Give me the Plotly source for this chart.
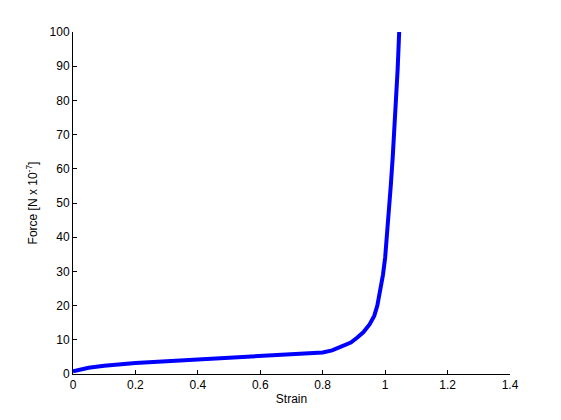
import plotly.graph_objects as go

strain = [0.0, 0.02, 0.05, 0.1, 0.15, 0.2, 0.3, 0.4, 0.5, 0.6, 0.7, 0.8, 0.83, 0.86, 0.89, 0.91, 0.93, 0.95, 0.965, 0.975, 0.985, 0.993, 1.0, 1.006, 1.012, 1.018, 1.024, 1.03, 1.035, 1.04, 1.045]
force = [0.8, 1.3, 1.8, 2.4, 2.9, 3.2, 3.7, 4.2, 4.9, 5.4, 5.8, 6.3, 6.9, 7.9, 9.2, 10.6, 12.2, 14.5, 17.0, 20.0, 24.5, 29.0, 34.0, 40.0, 47.0, 55.0, 63.0, 72.0, 80.0, 89.0, 100.0]

x_ticks = [0, 0.2, 0.4, 0.6, 0.8, 1, 1.2, 1.4]
x_labels = ["0", "0.2", "0.4", "0.6", "0.8", "1", "1.2", "1.4"]
y_ticks = [0, 10, 20, 30, 40, 50, 60, 70, 80, 90, 100]

FONT = "Liberation Sans, Arial, Helvetica"

fig = go.Figure(go.Scatter(x=strain, y=force, mode="lines",
                           line=dict(color="#0000ff", width=4)))

axis_common = dict(showgrid=False, zeroline=False, showline=True, linecolor="black",
                   linewidth=1, ticks="inside", ticklen=4, tickcolor="black",
                   tickfont=dict(family=FONT, size=12, color="#000000"))

# page body has an 8px default margin; shrink figure so it fits the 561x420 window
fig.update_layout(
    width=553, height=412,
    margin=dict(l=65, r=51, t=24, b=46),
    paper_bgcolor="white", plot_bgcolor="white",
    showlegend=False,
    xaxis=dict(range=[0, 1.4], tickvals=x_ticks, ticktext=x_labels,
               title=dict(text="Strain", standoff=3,
                          font=dict(family=FONT, size=12, color="#000000")),
               **axis_common),
    yaxis=dict(range=[0, 100], tickvals=y_ticks,
               title=dict(text="Force [N x 10<sup>-7</sup>]", standoff=9,
                          font=dict(family=FONT, size=12, color="#000000")),
               **axis_common),
)

fig.write_html("out.html")
